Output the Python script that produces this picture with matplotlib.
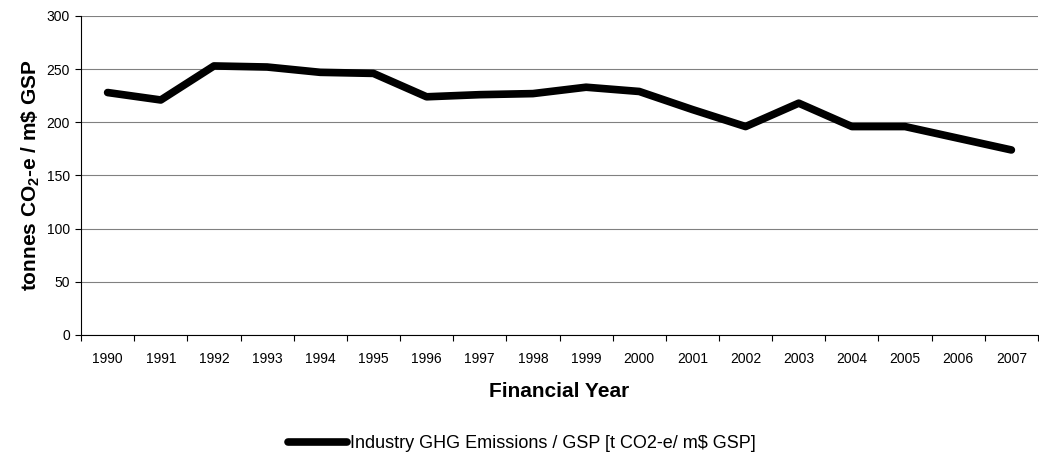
import numpy as np
import matplotlib.pyplot as plt

plt.rcParams['font.family'] = ['Liberation Sans', 'DejaVu Sans']
plt.rcParams['mathtext.fontset'] = 'custom'
plt.rcParams['mathtext.rm'] = 'Liberation Sans'
plt.rcParams['mathtext.bf'] = 'Liberation Sans:bold'

# Data
years = ['1990', '1991', '1992', '1993', '1994', '1995', '1996', '1997', '1998',
         '1999', '2000', '2001', '2002', '2003', '2004', '2005', '2006', '2007']
intensity = [228, 221, 253, 252, 247, 246, 224, 226, 227,
             233, 229, 212, 196, 218, 196, 196, 185, 174]
series_label = 'Industry GHG Emissions / GSP [t CO2-e/ m$ GSP]'

fig = plt.figure(figsize=(10.39, 4.63), dpi=100)
ax = fig.add_axes([0.078, 0.2765, 0.921, 0.689])

x = np.arange(len(years))
ax.plot(x, intensity, color='black', linewidth=5.5, solid_capstyle='round',
        solid_joinstyle='round', label=series_label)

ax.set_xlim(-0.5, len(years) - 0.5)
ax.set_ylim(0, 300)
ax.set_yticks(range(0, 301, 50))
ax.yaxis.grid(True, color='#808080', linewidth=0.8)
ax.set_axisbelow(True)

# category ticks between labels, Excel style
ax.set_xticks(np.arange(-0.5, len(years), 1))
ax.set_xticklabels([])
ax.set_xticks(x, minor=True)
ax.set_xticklabels(years, minor=True)
ax.tick_params(axis='x', which='major', length=4, direction='out')
ax.tick_params(axis='x', which='minor', length=0, labelsize=10, pad=12)
ax.tick_params(axis='y', length=4, labelsize=10, pad=4)

for s in ['top', 'right']:
    ax.spines[s].set_visible(False)

ax.set_xlabel('Financial Year', fontsize=15, fontweight='bold', labelpad=12)
ax.set_ylabel(r'tonnes CO$_\mathbf{2}$-e / m\$ GSP', fontsize=15,
              fontweight='bold', labelpad=3)

fig.legend(loc='center', bbox_to_anchor=(0.502, 1 - 444 / 463), frameon=False,
           fontsize=13, handlelength=3.3, handletextpad=0.15)

fig.savefig('out.png', dpi=100)
